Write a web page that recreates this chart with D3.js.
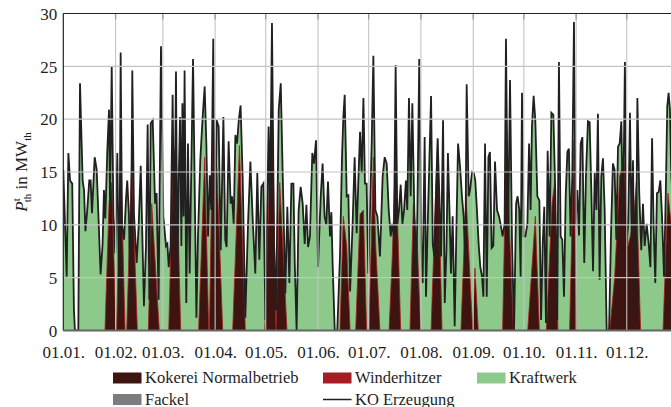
<!DOCTYPE html>
<html>
<head>
<meta charset="utf-8">
<script src="https://cdn.jsdelivr.net/npm/d3@7"></script>
<style>
  body { margin: 0; background: #fff; }
  svg { display: block; }
  svg text { font-family: "Liberation Serif", "DejaVu Serif", serif !important; fill: #1e1e1e; }
</style>
</head>
<body>
<svg id="chart" width="671" height="407"></svg>
<script>
// KO Erzeugung (coke oven gas production), day of year -> MW_th
const koDay = [
  0, 2.0, 3.0, 4.0, 5.3, 6.3, 6.9, 8.9, 9.9, 11.5, 12.3, 13.1, 14.2, 15.4, 16.2, 17.0, 18.6, 19.8, 20.8, 22.1,
  23.3, 24.1, 24.9, 26.1, 27.1, 27.7, 28.7, 29.7, 30.8, 32.0, 33.2, 34.0, 34.8, 36.0, 37.2, 37.9, 38.9, 39.9, 40.9, 41.9,
  43.5, 44.7, 45.9, 47.0, 47.8, 49.0, 50.0, 51.0, 51.8, 53.0, 54.4, 55.3, 56.5, 57.9, 59.3, 60.3, 60.9, 61.7, 62.5, 63.6,
  64.8, 65.8, 66.8, 67.6, 68.4, 69.2, 70.0, 70.6, 71.3, 71.9, 72.9, 73.9, 74.9, 76.9, 78.9, 79.8, 81.2, 82.6, 83.8, 84.8,
  85.8, 86.8, 87.7, 88.9, 89.7, 90.9, 92.1, 93.3, 94.9, 96.0, 96.8, 98.0, 99.2, 100.0, 101.0, 102.0, 103.0, 104.0, 105.1, 106.3,
  107.9, 109.5, 110.9, 112.2, 113.8, 115.0, 116.2, 117.4, 118.6, 119.8, 121.7, 122.5, 123.7, 124.9, 126.1, 127.7, 128.9, 130.0, 131.6, 132.8,
  134.0, 135.2, 136.4, 137.2, 138.3, 139.5, 140.7, 141.9, 143.1, 144.1, 145.1, 146.2, 147.6, 148.6, 149.8, 151.0, 152.6, 153.7, 154.9, 155.9,
  156.9, 158.1, 158.9, 159.7, 160.9, 162.4, 164.0, 165.2, 166.0, 166.8, 168.0, 169.0, 170.0, 171.5, 172.7, 173.9, 174.9, 175.9, 176.9, 177.9,
  178.8, 179.8, 180.8, 181.8, 182.8, 183.8, 185.0, 186.2, 187.7, 189.3, 190.5, 191.7, 192.9, 194.1, 194.8, 196.0, 197.0, 198.0, 199.0, 200.0,
  201.0, 202.0, 203.1, 203.9, 204.9, 205.9, 206.9, 207.9, 209.1, 209.9, 211.0, 212.2, 213.0, 214.2, 215.0, 216.0, 218.0, 219.0, 219.9, 220.9,
  221.9, 222.9, 223.9, 225.1, 226.1, 227.1, 228.0, 229.0, 229.8, 230.8, 232.0, 233.0, 234.0, 235.2, 236.3, 237.3, 238.3, 239.1, 240.3, 241.1,
  242.3, 243.3, 244.2, 245.2, 246.2, 247.2, 248.2, 249.0, 250.0, 251.0, 252.0, 252.9, 253.9, 254.9, 255.9, 257.1, 258.3, 259.5, 260.4, 261.6,
  262.4, 263.6, 264.8, 266.0, 267.2, 268.4, 269.3, 270.3, 271.1, 271.9, 272.9, 273.9, 275.1, 276.1, 277.0, 277.8, 278.8, 279.8, 281.0, 282.2,
  283.2, 284.2, 285.1, 286.1, 287.1, 288.3, 289.3, 290.5, 291.6, 292.8, 293.8, 294.8, 295.8, 296.8, 297.8, 298.8, 299.7, 300.7, 301.7, 302.7,
  303.7, 304.7, 305.7, 306.7, 307.7, 308.8, 309.8, 311.0, 312.0, 313.0, 314.0, 315.0, 316.0, 316.9, 317.9, 318.9, 319.9, 320.9, 322.1, 323.5,
  324.8, 325.8, 326.8, 327.8, 328.8, 329.8, 330.8, 331.8, 332.9, 333.9, 334.9, 335.9, 336.9, 337.7, 338.7, 339.7, 340.3, 341.4, 342.6, 343.6,
  344.6, 345.8, 347.0, 348.0, 349.0, 349.9, 350.9, 351.9, 352.9, 353.9, 354.9, 356.1, 357.1, 358.0, 358.8, 359.6, 360.4, 361.5, 363.0, 364.9
];
const koValue = [
  15.2, 5.1, 16.8, 14.2, 13.9, 2.0, 0, 0, 23.4, 14.1, 13.3, 9.4, 11.4, 14.2, 14.2, 11.1, 16.4, 15.2, 11.0, 5.3,
  8.2, 13.3, 10.6, 17.1, 20.9, 12.0, 25.0, 11.0, 7.3, 16.8, 2.0, 26.3, 10.0, 8.6, 12.5, 14.2, 11.0, 2.0, 24.6, 11.0,
  6.4, 10.0, 15.6, 8.0, 2.3, 8.0, 19.5, 2.9, 19.6, 19.9, 12.0, 13.0, 2.9, 26.9, 10.8, 9.0, 8.0, 8.2, 6.0, 8.0,
  22.3, 8.0, 24.5, 5.0, 14.0, 20.2, 8.0, 21.5, 10.8, 24.6, 2.6, 17.7, 5.4, 25.7, 1.2, 8.6, 16.1, 20.2, 23.1, 17.7,
  8.9, 14.7, 11.4, 27.6, 6.4, 19.9, 19.3, 7.6, 20.2, 8.6, 7.9, 17.9, 12.0, 12.7, 10.1, 18.5, 17.7, 19.9, 21.3, 14.6,
  1.2, 10.1, 16.0, 10.8, 5.4, 14.9, 6.7, 13.6, 13.9, 1.0, 19.3, 11.4, 29.1, 8.2, 1.9, 20.9, 23.4, 15.2, 3.5, 11.7,
  4.5, 13.9, 13.9, 6.4, 0, 11.4, 13.6, 12.0, 8.2, 11.9, 7.9, 8.9, 16.8, 15.8, 18.0, 6.0, 12.7, 15.8, 10.8, 10.0,
  14.1, 8.9, 11.2, 6.0, 0, 0, 7.0, 16.4, 20.2, 22.3, 12.7, 12.8, 3.7, 10.1, 16.4, 9.2, 14.2, 18.8, 14.9, 22.0,
  13.9, 13.9, 5.4, 11.4, 17.7, 26.0, 11.4, 10.8, 7.0, 14.6, 16.4, 15.8, 11.4, 8.9, 10.1, 8.9, 25.1, 10.1, 11.4, 13.8,
  10.1, 11.4, 14.2, 11.4, 22.0, 12.7, 21.5, 12.7, 3.8, 11.4, 25.7, 8.2, 4.5, 18.3, 3.2, 10.0, 22.2, 8.2, 7.0, 12.7,
  18.2, 12.7, 7.0, 19.9, 2.6, 7.6, 16.8, 10.8, 5.4, 10.8, 0.4, 9.5, 17.7, 15.5, 12.7, 10.8, 6.4, 23.3, 12.7, 13.3,
  15.0, 14.9, 14.2, 11.4, 8.2, 6.0, 5.1, 3.2, 17.7, 3.2, 16.4, 16.9, 7.8, 8.0, 16.0, 11.4, 10.8, 9.8, 8.9, 10.1,
  27.6, 8.2, 23.7, 8.2, 0, 12.0, 12.7, 11.4, 5.1, 22.5, 8.9, 8.9, 10.1, 17.7, 11.4, 19.3, 22.2, 19.9, 12.7, 12.3,
  1.0, 8.2, 11.7, 0.7, 17.0, 8.9, 20.6, 20.4, 13.3, 1.0, 25.4, 8.9, 8.6, 3.2, 12.7, 16.9, 17.2, 8.9, 14.6, 29.2,
  10.1, 13.3, 9.0, 17.7, 18.3, 6.4, 14.6, 19.8, 19.7, 13.3, 5.6, 14.9, 11.4, 20.5, 4.8, 14.6, 16.3, 11.4, 0, 0,
  10.1, 15.8, 15.2, 8.6, 17.4, 17.7, 19.8, 10.1, 25.4, 8.2, 10.1, 20.6, 8.9, 16.1, 1.6, 10.1, 22.0, 13.0, 7.6, 12.0,
  8.0, 10.1, 8.2, 6.0, 18.2, 10.1, 4.5, 13.0, 13.1, 14.2, 10.8, 5.1, 12.7, 21.2, 22.5, 20.9, 14.6, 12.0, 15.0, 12.0
];

// Kokerei Normalbetrieb (bottom layer of the supply stack)
const kokereiDay = [
  0, 24.7, 27.1, 28.7, 31.2, 31.6, 34.0, 36.6, 37.6, 40.5, 43.9, 50.4, 52.4, 56.9, 62.5, 64.8, 66.8, 69.6,
  80.2, 83.8, 86.2, 86.6, 88.1, 88.9, 91.1, 94.5, 100.4, 104.4, 107.9, 119.4, 122.1, 123.7, 126.1, 128.3, 132.6,
  164.0, 166.0, 168.0, 170.0, 173.3, 175.9, 177.9, 179.8, 181.2, 183.8, 185.2, 187.7, 193.1, 195.0, 197.0, 200.0,
  205.5, 207.5, 209.9, 211.8, 218.0, 220.9, 221.9, 224.5, 235.7, 238.7, 241.7, 242.7, 244.0, 246.0,
  260.4, 262.8, 264.4, 266.8, 275.3, 279.8, 282.2, 286.3, 289.7, 291.3, 293.2, 300.1, 302.7, 304.1,
  323.9, 326.8, 329.8, 332.4, 334.7, 337.7, 339.7, 342.2, 355.5, 358.4, 360.4, 361.4, 364.9
];
const kokereiValue = [
  0, 0, 12, 14, 0, 0, 17, 0, 0, 16, 0, 0, 12, 0, 0, 15, 18, 0,
  0, 16.4, 0, 0, 15, 20, 15, 0, 0, 17.5, 0, 0, 14, 23, 0, 14, 0,
  0, 10.8, 8, 0, 0, 11, 11.4, 0, 0, 16.4, 8, 0, 0, 7, 17, 0,
  0, 12, 8, 0, 0, 14, 18, 0, 0, 13, 3, 0, 5.9, 0,
  0, 20, 10, 0, 0, 10.8, 0, 0, 12, 14, 0, 0, 18, 0,
  0, 5, 14.6, 16, 8, 10, 14, 0, 0, 13, 10, 8, 0
];

const yTicks = [0, 5, 10, 15, 20, 25, 30];
const year = 2015;

const legendItems = [
  { name: "Kokerei Normalbetrieb", kind: "area", color: "#3d1410" },
  { name: "Winderhitzer",          kind: "area", color: "#a61c22" },
  { name: "Kraftwerk",             kind: "area", color: "#8dc98a" },
  { name: "Fackel",                kind: "area", color: "#7b7b80" },
  { name: "KO Erzeugung",          kind: "line", color: "#202020" }
];

const serif = '"Liberation Serif", "DejaVu Serif", serif';
const svg = d3.select("#chart");
const plotLeft = 63.3, plotTop = 13.5, plotBottom = 330.5;
const t0 = Date.UTC(year, 0, 1);
const toDate = d => new Date(t0 + d * 864e5);

const x = d3.scaleUtc()
  .domain([new Date(t0), new Date(Date.UTC(year + 1, 0, 1))])
  .range([plotLeft, plotLeft + 365 * 1.687]);
const y = d3.scaleLinear().domain([0, 30]).range([plotBottom, plotTop]);

const ko = koDay.map((d, i) => ({ t: toDate(d), v: koValue[i] }));
const kok = kokereiDay.map((d, i) => ({ t: toDate(d), v: kokereiValue[i] }));

svg.append("defs").append("clipPath").attr("id", "plot")
  .append("rect").attr("x", plotLeft).attr("y", 0).attr("width", 700).attr("height", plotBottom);

const plot = svg.append("g").attr("clip-path", "url(#plot)");

// Kraftwerk: fill beneath the production curve
plot.append("path").datum(ko)
  .attr("fill", legendItems[2].color)
  .attr("d", d3.area().x(d => x(d.t)).y0(y(0)).y1(d => y(d.v)));

// Kokerei Normalbetrieb with the thin Winderhitzer layer on its edge
plot.append("path").datum(kok)
  .attr("fill", legendItems[0].color)
  .attr("stroke", legendItems[1].color)
  .attr("stroke-width", 0.8)
  .attr("d", d3.area().x(d => x(d.t)).y0(y(0)).y1(d => y(d.v)));

// grid
const months = d3.utcMonths(new Date(t0), new Date(Date.UTC(year, 11, 31)));
const grid = svg.append("g").attr("stroke", "#c4c4c4").attr("stroke-width", 1.1);
grid.selectAll(".gy").data(yTicks.filter(v => v > 0 && v < 30)).join("line")
  .attr("x1", plotLeft).attr("x2", 671).attr("y1", d => y(d)).attr("y2", d => y(d));
grid.selectAll(".gx").data(months.slice(1)).join("line")
  .attr("x1", d => x(d)).attr("x2", d => x(d)).attr("y1", plotTop).attr("y2", plotBottom);

// tick marks on the frame
const tk = svg.append("g").attr("stroke", "#9a9a9a").attr("stroke-width", 1.3);
tk.selectAll(".tt").data(months.slice(1)).join("line")
  .attr("x1", d => x(d)).attr("x2", d => x(d)).attr("y1", plotTop).attr("y2", plotTop + 6);

// KO Erzeugung line
plot.append("path").datum(ko)
  .attr("fill", "none")
  .attr("stroke", legendItems[4].color)
  .attr("stroke-width", 1.8)
  .attr("stroke-linejoin", "miter")
  .attr("d", d3.line().x(d => x(d.t)).y(d => y(d.v)));

// frame
svg.append("line").attr("x1", plotLeft).attr("x2", 671).attr("y1", plotTop).attr("y2", plotTop)
  .attr("stroke", "#222").attr("stroke-width", 1.2);
svg.append("line").attr("x1", plotLeft).attr("x2", plotLeft).attr("y1", plotTop).attr("y2", plotBottom)
  .attr("stroke", "#222").attr("stroke-width", 1.2);
svg.append("line").attr("x1", plotLeft).attr("x2", 671).attr("y1", plotBottom).attr("y2", plotBottom)
  .attr("stroke", "#666").attr("stroke-width", 1.8);

// axes
const xAxis = d3.axisBottom(x).tickValues(months).tickFormat(d3.utcFormat("%d.%m.")).tickSize(0).tickPadding(0);
const gx = svg.append("g").attr("transform", `translate(0,${plotBottom})`).call(xAxis);
gx.attr("font-family", serif);
gx.select(".domain").remove();
gx.selectAll("text").attr("dy", null).attr("y", 27).attr("fill", "#1e1e1e")
  .attr("font-family", serif).style("font-size", "17px");

const yAxis = d3.axisLeft(y).tickValues(yTicks).tickSize(0).tickPadding(0);
const gy = svg.append("g").attr("transform", `translate(${plotLeft},0)`).call(yAxis);
gy.attr("font-family", serif);
gy.select(".domain").remove();
gy.selectAll("text").attr("x", -6).attr("dy", "0.34em").attr("fill", "#1e1e1e")
  .attr("font-family", serif).style("font-size", "17px");

// y-axis title
const yt = svg.append("text").attr("transform", "translate(27,172) rotate(-90)")
  .attr("text-anchor", "middle").attr("font-family", serif).style("font-size", "17px");
yt.append("tspan").attr("font-style", "italic").text("P");
yt.append("tspan").attr("font-size", "11px").attr("dy", -7).text("t");
yt.append("tspan").attr("font-size", "11px").attr("dx", -4).attr("dy", 11).text("th");
yt.append("tspan").attr("dy", -4).text(" in MW");
yt.append("tspan").attr("font-size", "11px").attr("dy", 4).text("th");

// legend
const colX = [113, 323, 477];
const rowY = [378, 399.5];
const lg = svg.append("g").attr("font-family", serif);
legendItems.forEach((it, i) => {
  const cx = colX[i % 3], cy = rowY[Math.floor(i / 3)];
  if (it.kind === "area") {
    lg.append("rect").attr("x", cx).attr("y", cy - 5.5).attr("width", 28.5).attr("height", 11)
      .attr("fill", it.color);
  } else {
    lg.append("line").attr("x1", cx).attr("x2", cx + 28.5).attr("y1", cy).attr("y2", cy)
      .attr("stroke", it.color).attr("stroke-width", 1.5);
  }
  lg.append("text").attr("x", cx + 32).attr("y", cy + 5).style("font-size", "16.5px").text(it.name);
});
</script>
</body>
</html>
